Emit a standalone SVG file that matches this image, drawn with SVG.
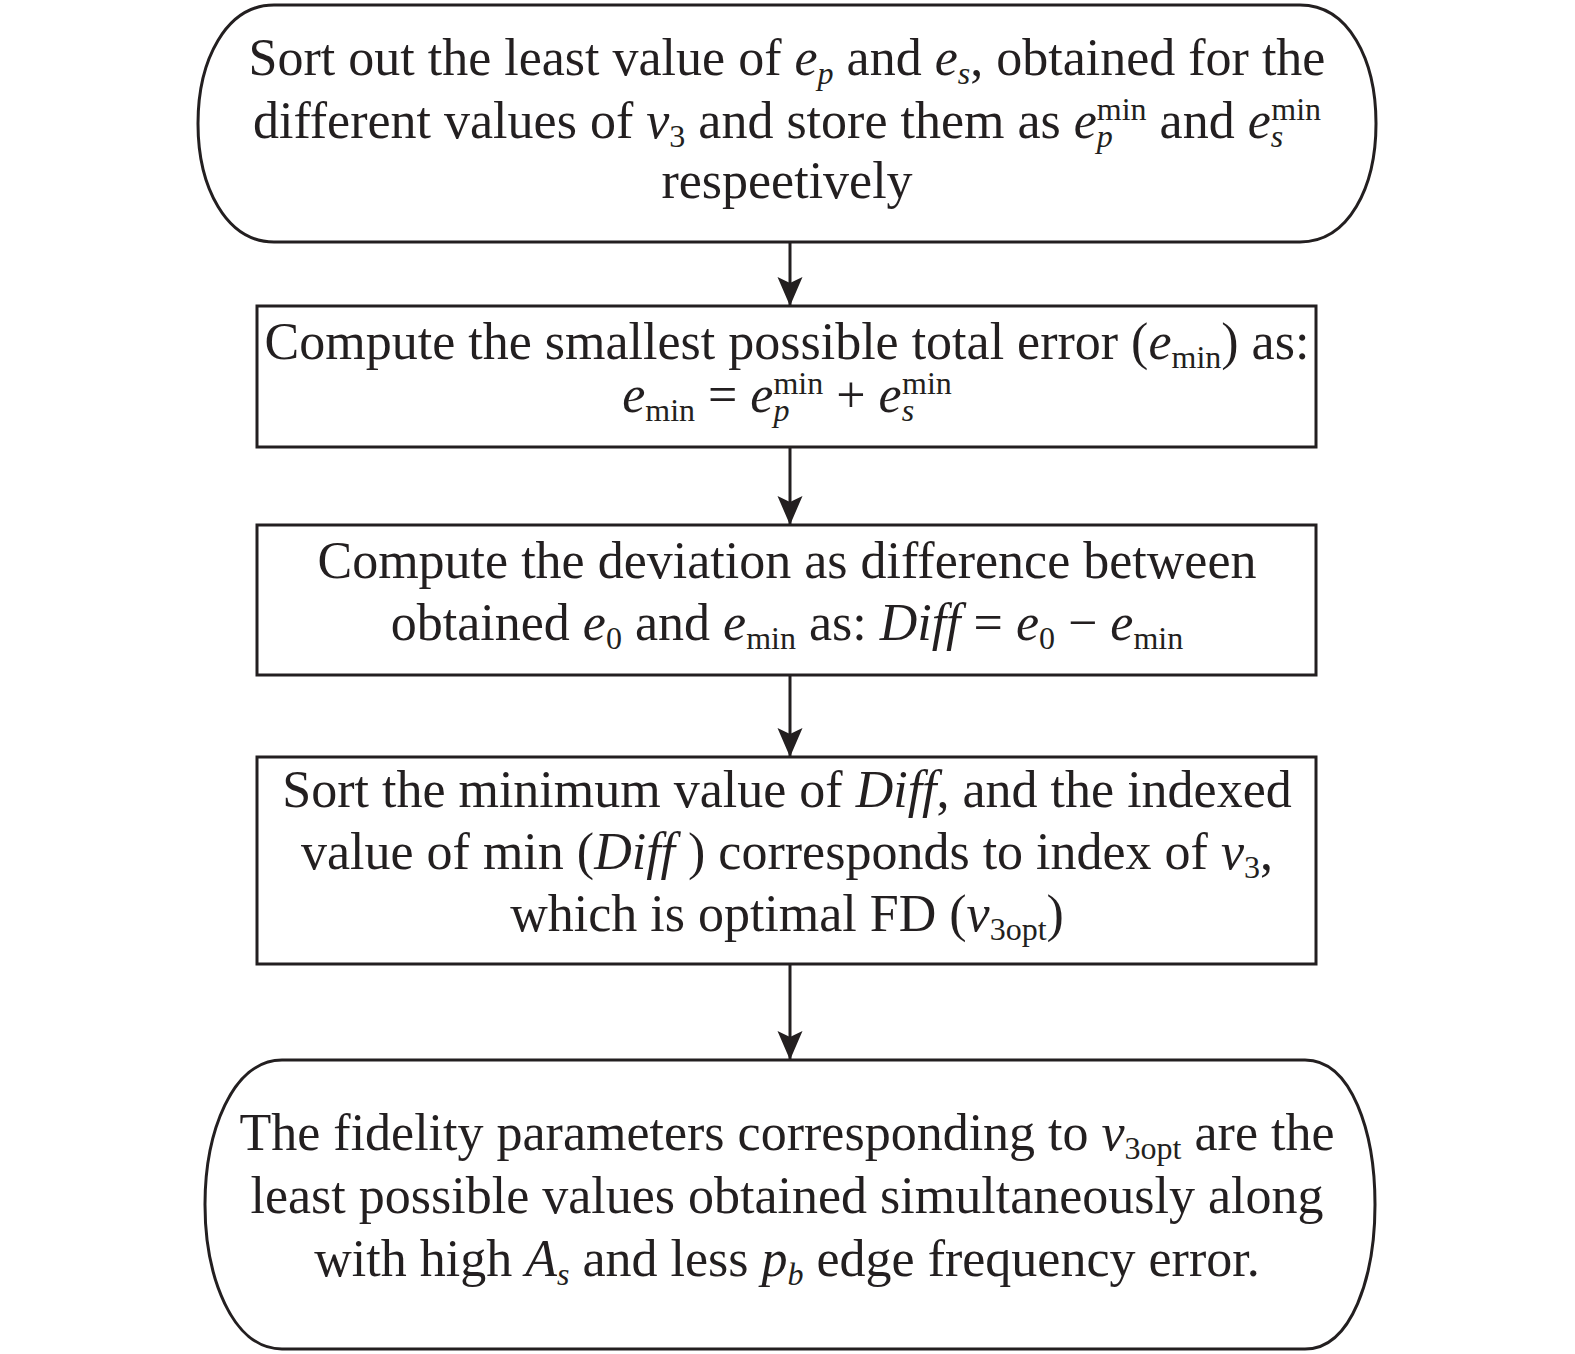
<svg xmlns="http://www.w3.org/2000/svg" width="1575" height="1354" viewBox="0 0 1575 1354">
<style>
.shape{fill:#fff;stroke:#231f20;stroke-width:3}
.conn{stroke:#231f20;stroke-width:3;fill:none}
text{font-family:"Liberation Serif","Times New Roman",serif;font-size:52px;fill:#231f20;text-anchor:middle}
.i{font-style:italic}
.s{font-size:32px}
</style>
<defs>
<marker id="ah" markerUnits="userSpaceOnUse" markerWidth="30" markerHeight="26" refX="29" refY="12.5" orient="auto" viewBox="0 0 30 26">
<path d="M0,0 L29,12.5 L0,25 L6,12.5 Z" fill="#231f20"/>
</marker>
</defs>
<rect width="1575" height="1354" fill="#fff"/>
<g id="connectors">
<line class="conn" x1="790" y1="242" x2="790" y2="306" marker-end="url(#ah)"/>
<line class="conn" x1="790" y1="447" x2="790" y2="525" marker-end="url(#ah)"/>
<line class="conn" x1="790" y1="675" x2="790" y2="757" marker-end="url(#ah)"/>
<line class="conn" x1="790" y1="964" x2="790" y2="1060" marker-end="url(#ah)"/>
</g>
<g id="node1">
<path class="shape" d="M274,5 H1300 C1349,5 1376,60 1376,123.5 C1376,187 1349,242 1300,242 H274 C226,242 198,187 198,123.5 C198,60 226,5 274,5 Z"/>
<g transform="translate(787,0)">
<text x="0" y="75">Sort out the least value of <tspan class="i">e</tspan><tspan class="i s" dy="9">p</tspan><tspan dy="-9"> and </tspan><tspan class="i">e</tspan><tspan class="i s" dy="9">s</tspan><tspan dy="-9">, obtained for the</tspan></text>
<text x="0" y="138">different values of <tspan class="i">v</tspan><tspan class="s" dy="9">3</tspan><tspan dy="-9"> and store them as </tspan><tspan class="i">e</tspan><tspan class="i s" dy="9">p</tspan><tspan class="s" dx="-16" dy="-27">min</tspan><tspan dy="18"> and </tspan><tspan class="i">e</tspan><tspan class="i s" dy="9">s</tspan><tspan class="s" dx="-12" dy="-27">min</tspan></text>
<text x="0" y="198">respeetively</text>
</g>
</g>
<g id="node2">
<rect class="shape" x="257" y="306" width="1059" height="141"/>
<g transform="translate(787,0)">
<text x="0" y="359">Compute the smallest possible total error (<tspan class="i">e</tspan><tspan class="s" dy="9">min</tspan><tspan dy="-9">) as:</tspan></text>
<text x="0" y="412"><tspan class="i">e</tspan><tspan class="s" dy="9">min</tspan><tspan dy="-9"> = </tspan><tspan class="i">e</tspan><tspan class="i s" dy="9">p</tspan><tspan class="s" dx="-16" dy="-27">min</tspan><tspan dy="18"> + </tspan><tspan class="i">e</tspan><tspan class="i s" dy="9">s</tspan><tspan class="s" dx="-12" dy="-27">min</tspan></text>
</g>
</g>
<g id="node3">
<rect class="shape" x="257" y="525" width="1059" height="150"/>
<g transform="translate(787,0)">
<text x="0" y="578">Compute the deviation as difference between</text>
<text x="0" y="640">obtained <tspan class="i">e</tspan><tspan class="s" dy="9">0</tspan><tspan dy="-9"> and </tspan><tspan class="i">e</tspan><tspan class="s" dy="9">min</tspan><tspan dy="-9"> as: </tspan><tspan class="i">Diff</tspan> = <tspan class="i">e</tspan><tspan class="s" dy="9">0</tspan><tspan dy="-9"> − </tspan><tspan class="i">e</tspan><tspan class="s" dy="9">min</tspan></text>
</g>
</g>
<g id="node4">
<rect class="shape" x="257" y="757" width="1059" height="207"/>
<g transform="translate(787,0)">
<text x="0" y="807">Sort the minimum value of <tspan class="i">Diff</tspan>, and the indexed</text>
<text x="0" y="869">value of min (<tspan class="i">Diff</tspan> ) corresponds to index of <tspan class="i">v</tspan><tspan class="s" dy="9">3</tspan><tspan dy="-9">,</tspan></text>
<text x="0" y="931">which is optimal FD (<tspan class="i">v</tspan><tspan class="s" dy="9">3opt</tspan><tspan dy="-9">)</tspan></text>
</g>
</g>
<g id="node5">
<path class="shape" d="M282,1060 H1305 C1352,1060 1375,1133 1375,1204.5 C1375,1276 1352,1349 1305,1349 H282 C232,1349 205,1276 205,1204.5 C205,1133 232,1060 282,1060 Z"/>
<g transform="translate(787,0)">
<text x="0" y="1150">The fidelity parameters corresponding to <tspan class="i">v</tspan><tspan class="s" dy="9">3opt</tspan><tspan dy="-9"> are the</tspan></text>
<text x="0" y="1213">least possible values obtained simultaneously along</text>
<text x="0" y="1276">with high <tspan class="i">A</tspan><tspan class="i s" dy="9">s</tspan><tspan dy="-9"> and less </tspan><tspan class="i">p</tspan><tspan class="i s" dy="9">b</tspan><tspan dy="-9"> edge frequency error.</tspan></text>
</g>
</g>
</svg>
